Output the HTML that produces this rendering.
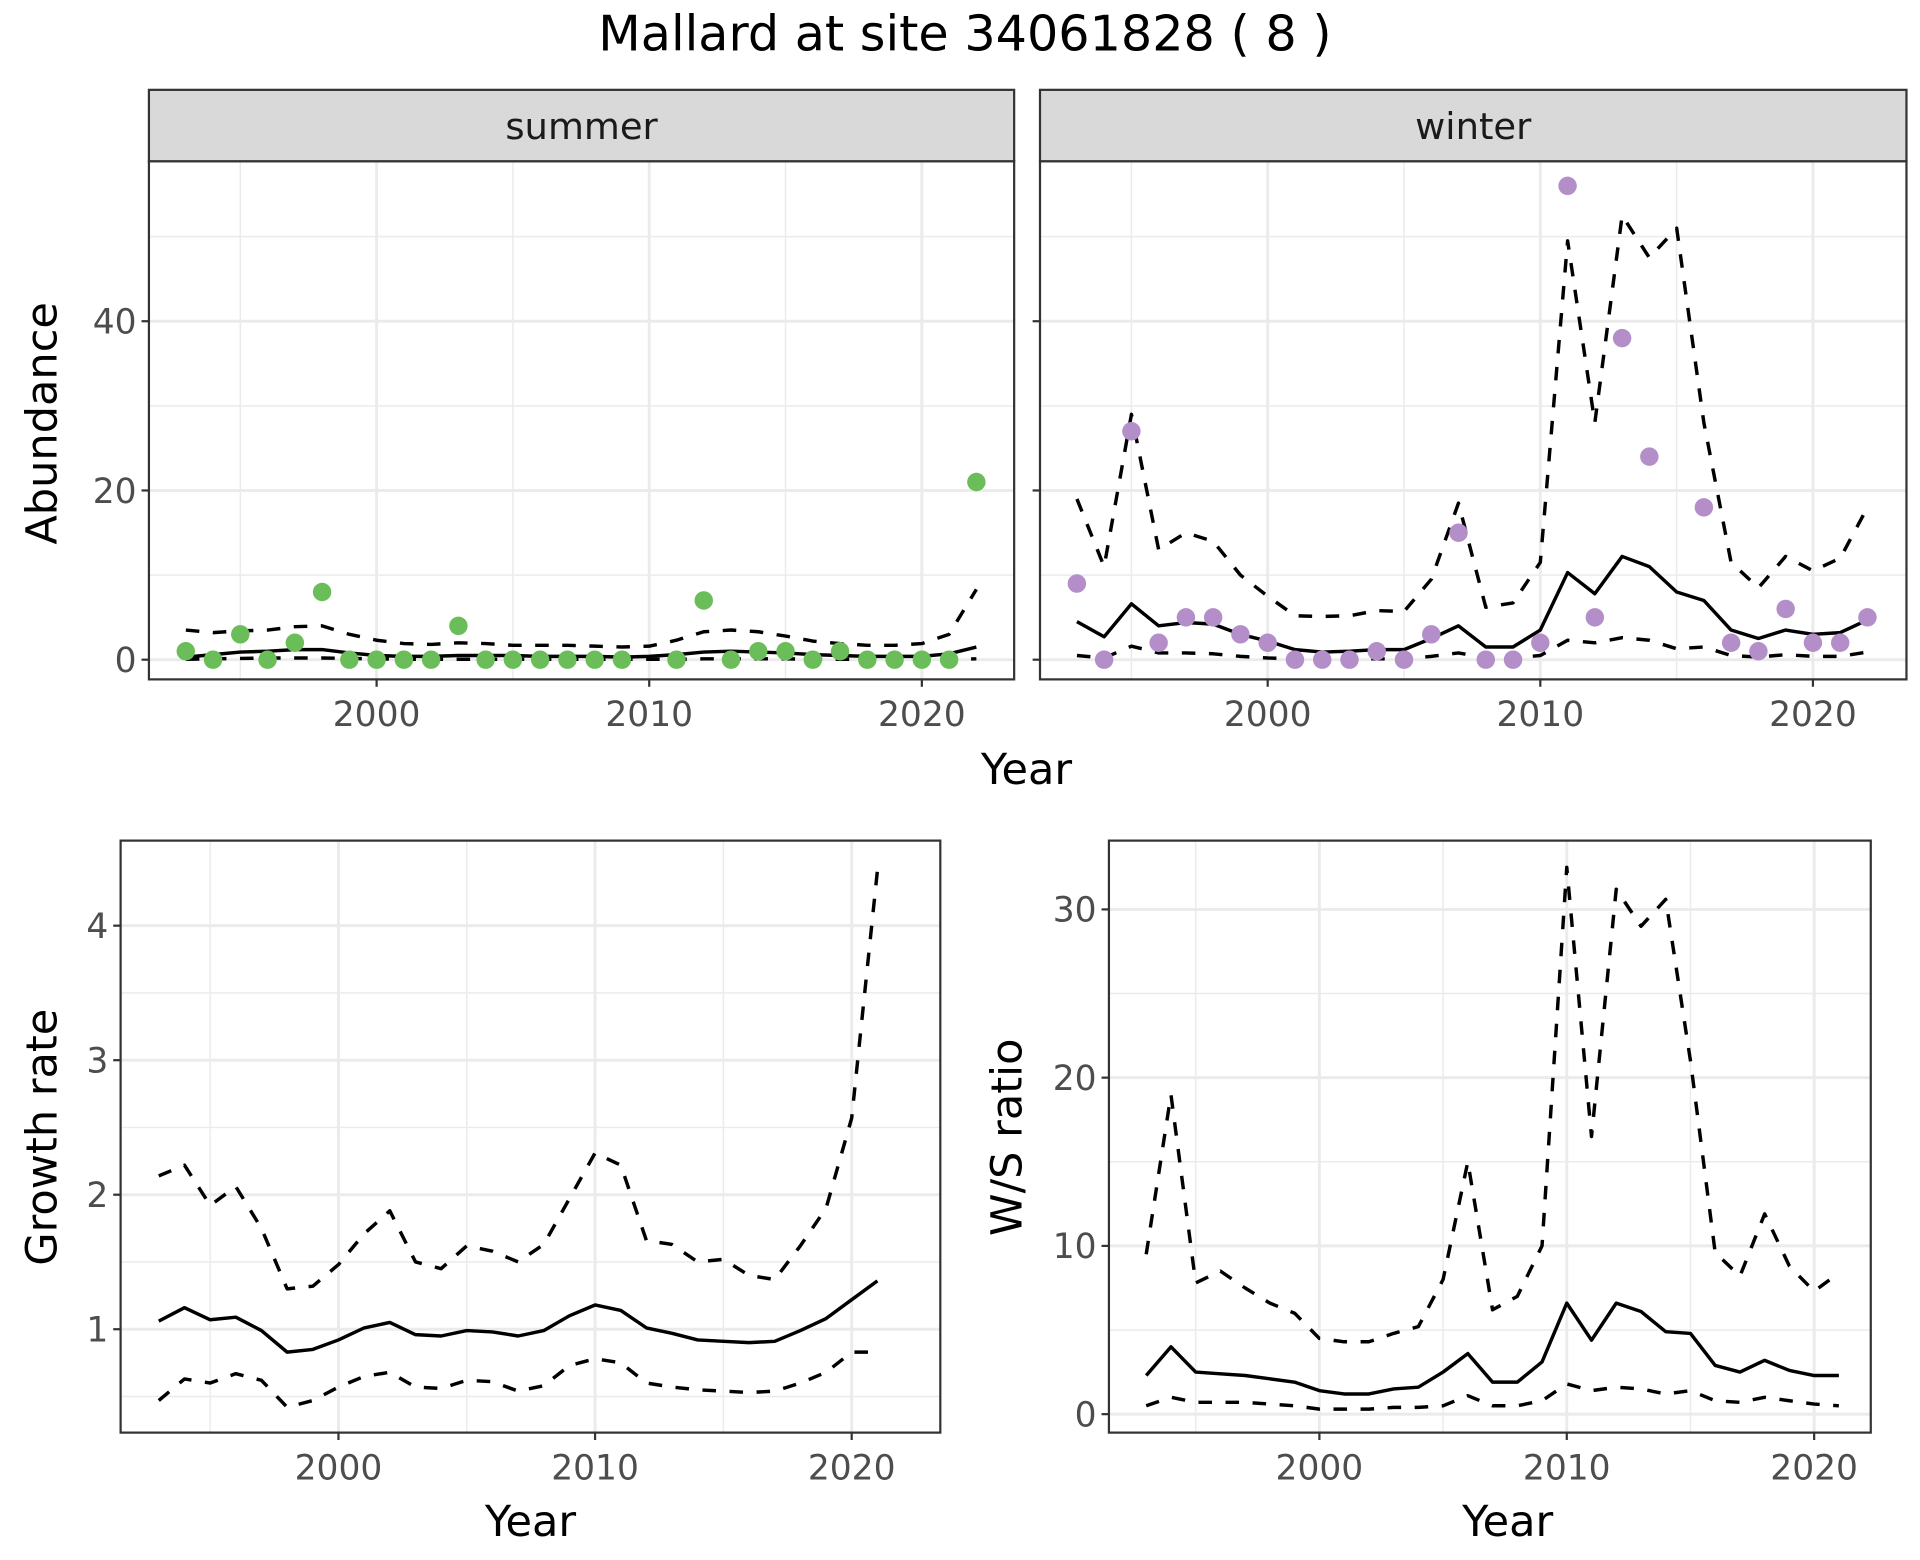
<!DOCTYPE html>
<html><head><meta charset="utf-8"><style>
html,body{margin:0;padding:0;background:#fff}
svg{display:block;font-family:"DejaVu Sans","Liberation Sans",sans-serif}
</style></head><body>
<svg id="chart" width="1920" height="1560" viewBox="0 0 1560 1267.5" preserveAspectRatio="none" xmlns="http://www.w3.org/2000/svg">
<text x="784" y="41" font-size="40" text-anchor="middle" fill="#000">Mallard at site 34061828 ( 8 )</text>
</svg>
<script>
const years = [1993,1994,1995,1996,1997,1998,1999,2000,2001,2002,2003,2004,2005,2006,2007,2008,2009,2010,2011,2012,2013,2014,2015,2016,2017,2018,2019,2020,2021,2022];
const summerObs = [1,0,3,0,2,8,0,0,0,0,4,0,0,0,0,0,0,null,0,7,0,1,1,0,1,0,0,0,0,21];
const summerMean = [0.3,0.6,0.9,1.0,1.2,1.2,0.8,0.5,0.4,0.4,0.5,0.5,0.5,0.4,0.4,0.4,0.3,0.4,0.6,0.9,1.0,0.9,0.8,0.6,0.5,0.4,0.4,0.4,0.7,1.5];
const summerUpper = [3.5,3.2,3.4,3.5,3.9,4.0,3.0,2.3,1.9,1.8,2.0,1.9,1.7,1.7,1.7,1.6,1.5,1.6,2.3,3.3,3.5,3.3,2.8,2.2,1.9,1.7,1.7,1.9,3.0,8.3];
const summerLower = [0.05,0.1,0.15,0.2,0.2,0.2,0.15,0.1,0.05,0.05,0.05,0.05,0.05,0.05,0.05,0.05,0.05,0.05,0.05,0.1,0.1,0.1,0.1,0.05,0.05,0.05,0.05,0.05,0.05,0.1];
const winterObs = [9,0,27,2,5,5,3,2,0,0,0,1,0,3,15,0,0,2,56,5,38,24,null,18,2,1,6,2,2,5];
const winterMean = [4.5,2.7,6.6,4.0,4.4,4.2,3.0,2.2,1.2,0.9,1.0,1.2,1.2,2.5,4.0,1.5,1.5,3.5,10.3,7.8,12.2,11.0,8.0,7.0,3.5,2.5,3.5,3.0,3.2,4.7];
const winterUpper = [19,11,29,13,15,14,10,7.5,5.2,5.1,5.2,5.8,5.7,9.5,18.5,6.2,6.7,11.5,49.5,28,52.5,47.5,51,28,11.5,8.5,12.2,10.5,12,18];
const winterLower = [0.5,0.2,1.6,0.8,0.8,0.7,0.4,0.2,0.1,0.1,0.1,0.1,0.1,0.4,0.8,0.2,0.2,0.5,2.3,2.0,2.6,2.3,1.3,1.5,0.5,0.3,0.6,0.4,0.4,0.9];
const years2 = [1993,1994,1995,1996,1997,1998,1999,2000,2001,2002,2003,2004,2005,2006,2007,2008,2009,2010,2011,2012,2013,2014,2015,2016,2017,2018,2019,2020,2021];
const growthMean = [1.06,1.16,1.07,1.09,0.99,0.83,0.85,0.92,1.01,1.05,0.96,0.95,0.99,0.98,0.95,0.99,1.10,1.18,1.14,1.01,0.97,0.92,0.91,0.90,0.91,0.99,1.08,1.22,1.36];
const growthUpper = [2.14,2.22,1.92,2.06,1.75,1.30,1.32,1.48,1.71,1.88,1.50,1.45,1.62,1.58,1.50,1.63,1.97,2.31,2.22,1.66,1.63,1.50,1.52,1.40,1.37,1.62,1.90,2.57,4.41];
const growthLower = [0.47,0.63,0.60,0.67,0.62,0.42,0.47,0.57,0.65,0.68,0.57,0.56,0.62,0.61,0.54,0.58,0.73,0.78,0.75,0.60,0.57,0.55,0.54,0.53,0.54,0.60,0.68,0.83,0.83];
const ratioMean = [2.3,4.0,2.5,2.4,2.3,2.1,1.9,1.4,1.2,1.2,1.5,1.6,2.5,3.6,1.9,1.9,3.1,6.6,4.4,6.6,6.1,4.9,4.8,2.9,2.5,3.2,2.6,2.3,2.3];
const ratioUpper = [9.5,19,7.8,8.5,7.5,6.6,6.0,4.5,4.3,4.3,4.8,5.2,8.0,15.0,6.2,7.0,10.0,32.5,16.5,31.2,29,30.6,21,9.6,8.2,11.9,8.8,7.3,8.4];
const ratioLower = [0.5,1.0,0.7,0.7,0.7,0.6,0.5,0.3,0.3,0.3,0.4,0.4,0.5,1.1,0.5,0.5,0.8,1.8,1.4,1.6,1.5,1.2,1.4,0.8,0.7,1.0,0.8,0.6,0.5];
const xTicks = [2000,2010,2020];
const xMinor = [1995,2005,2015];
const abTicks = [0,20,40];
const abMinor = [10,30,50];
const grTicks = [1,2,3,4];
const grMinor = [0.5,1.5,2.5,3.5];
const wsTicks = [0,10,20,30];
const wsMinor = [5,15,25];

const svg = document.getElementById('chart');
const NS = 'http://www.w3.org/2000/svg';
function mk(tag, attrs, parent){const e=document.createElementNS(NS,tag);for(const k in attrs)e.setAttribute(k,attrs[k]);(parent||svg).appendChild(e);return e;}

function panel(cfg){
  const g = mk('g',{});
  
  
  const {x0,x1,y0,y1} = cfg;
  const sx = v => cfg.px0 + (v - cfg.vx0) * cfg.kx;
  const sy = v => cfg.py0 - (v - cfg.vy0) * cfg.ky;
  mk('rect',{x:x0,y:y0,width:x1-x0,height:y1-y0,fill:'#fff'},g);
  cfg.xMinor.forEach(v=>{const l=mk('line',{x1:sx(v),x2:sx(v),y1:y0,y2:y1,stroke:'#ebebeb','stroke-width':1.2},g);});
  cfg.yMinor.forEach(v=>{if(sy(v)<y0)return;const l=mk('line',{x1:x0,x2:x1,y1:sy(v),y2:sy(v),stroke:'#ebebeb','stroke-width':1.2},g);});
  cfg.xTicks.forEach(v=>{const l=mk('line',{x1:sx(v),x2:sx(v),y1:y0,y2:y1,stroke:'#ebebeb','stroke-width':2.4},g);});
  cfg.yTicks.forEach(v=>{const l=mk('line',{x1:x0,x2:x1,y1:sy(v),y2:sy(v),stroke:'#ebebeb','stroke-width':2.4},g);});
  function line(xs, vals, dashed, nm){
    let d='';xs.forEach((x,i)=>{if(vals[i]==null)return;d+=(d?'L':'M')+sx(x).toFixed(1)+','+sy(vals[i]).toFixed(1);});
    const p=mk('path',{d:d,fill:'none',stroke:'#000','stroke-width':2.8,'stroke-dasharray':dashed?'11 11':'none','stroke-linejoin':'round'},g);
    
    
  }
  line(cfg.xs, cfg.upper, true, 'upper-ci-line');
  line(cfg.xs, cfg.lower, true, 'lower-ci-line');
  line(cfg.xs, cfg.mean, false, 'mean-line');
  if(cfg.obs){cfg.xs.forEach((x,i)=>{if(cfg.obs[i]==null)return;const c=mk('circle',{cx:sx(x),cy:sy(cfg.obs[i]),r:7.5,fill:cfg.color},g);});}
  mk('rect',{x:x0,y:y0,width:x1-x0,height:y1-y0,fill:'none',stroke:'#333','stroke-width':1.8},g);
  cfg.xTicks.forEach(v=>{
    mk('line',{x1:sx(v),x2:sx(v),y1:y1,y2:y1+6,stroke:'#333','stroke-width':1.8},g);
    const t=mk('text',{x:sx(v),y:y1+38,'font-size':28,'text-anchor':'middle',fill:'#4d4d4d'},g);t.textContent=v;
    
  });
  cfg.yTicks.forEach(v=>{
    mk('line',{x1:x0-6,x2:x0,y1:sy(v),y2:sy(v),stroke:'#333','stroke-width':1.8},g);
    if(cfg.yLabels){const t=mk('text',{x:x0-10,y:sy(v)+10,'font-size':28,'text-anchor':'end',fill:'#4d4d4d'},g);t.textContent=v;
    }
  });
  if(cfg.strip){
    const r=mk('rect',{x:x0,y:cfg.stripY,width:x1-x0,height:y0-cfg.stripY,fill:'#d9d9d9',stroke:'#333','stroke-width':1.8},g);
    
    const t=mk('text',{x:(x0+x1)/2,y:cfg.stripY+40,'font-size':30,'text-anchor':'middle',fill:'#1a1a1a'},g);t.textContent=cfg.strip;
    
  }
}
panel({name:'summer-panel',x0:121,x1:824,y0:131,y1:552,stripY:73,strip:'summer',px0:306,vx0:2000,kx:22.15,py0:536,vy0:0,ky:6.875,
  xTicks,xMinor,yTicks:abTicks,yMinor:abMinor,yLabels:true,xs:years,obs:summerObs,mean:summerMean,upper:summerUpper,lower:summerLower,color:'#6abd58'});
panel({name:'winter-panel',x0:845,x1:1549,y0:131,y1:552,stripY:73,strip:'winter',px0:1030,vx0:2000,kx:22.15,py0:536,vy0:0,ky:6.875,
  xTicks,xMinor,yTicks:abTicks,yMinor:abMinor,yLabels:false,xs:years,obs:winterObs,mean:winterMean,upper:winterUpper,lower:winterLower,color:'#b48ec8'});
panel({name:'growth-rate-panel',x0:98,x1:764,y0:683,y1:1164,px0:275,vx0:2000,kx:20.85,py0:1080,vy0:1,ky:109.3,
  xTicks,xMinor,yTicks:grTicks,yMinor:grMinor,yLabels:true,xs:years2,mean:growthMean,upper:growthUpper,lower:growthLower});
panel({name:'ws-ratio-panel',x0:901,x1:1520,y0:683,y1:1164,px0:1072,vx0:2000,kx:20.1,py0:1149,vy0:0,ky:13.67,
  xTicks,xMinor,yTicks:wsTicks,yMinor:wsMinor,yLabels:true,xs:years2,mean:ratioMean,upper:ratioUpper,lower:ratioLower});

function label(txt,x,y,rot,nm){
  const t=mk('text',{x:x,y:y,'font-size':35,'text-anchor':'middle',fill:'#000',transform:rot?`rotate(-90 ${x} ${y})`:''});
  t.textContent=txt;
  
  
}
label('Year',834,637,false,'top-x-axis-title');
label('Abundance',46,344,true,'abundance-y-axis-title');
label('Year',431,1248,false,'growth-x-axis-title');
label('Growth rate',46,924,true,'growth-y-axis-title');
label('Year',1225,1248,false,'ratio-x-axis-title');
label('W/S ratio',830,924,true,'ratio-y-axis-title');
</script>
</body></html>
